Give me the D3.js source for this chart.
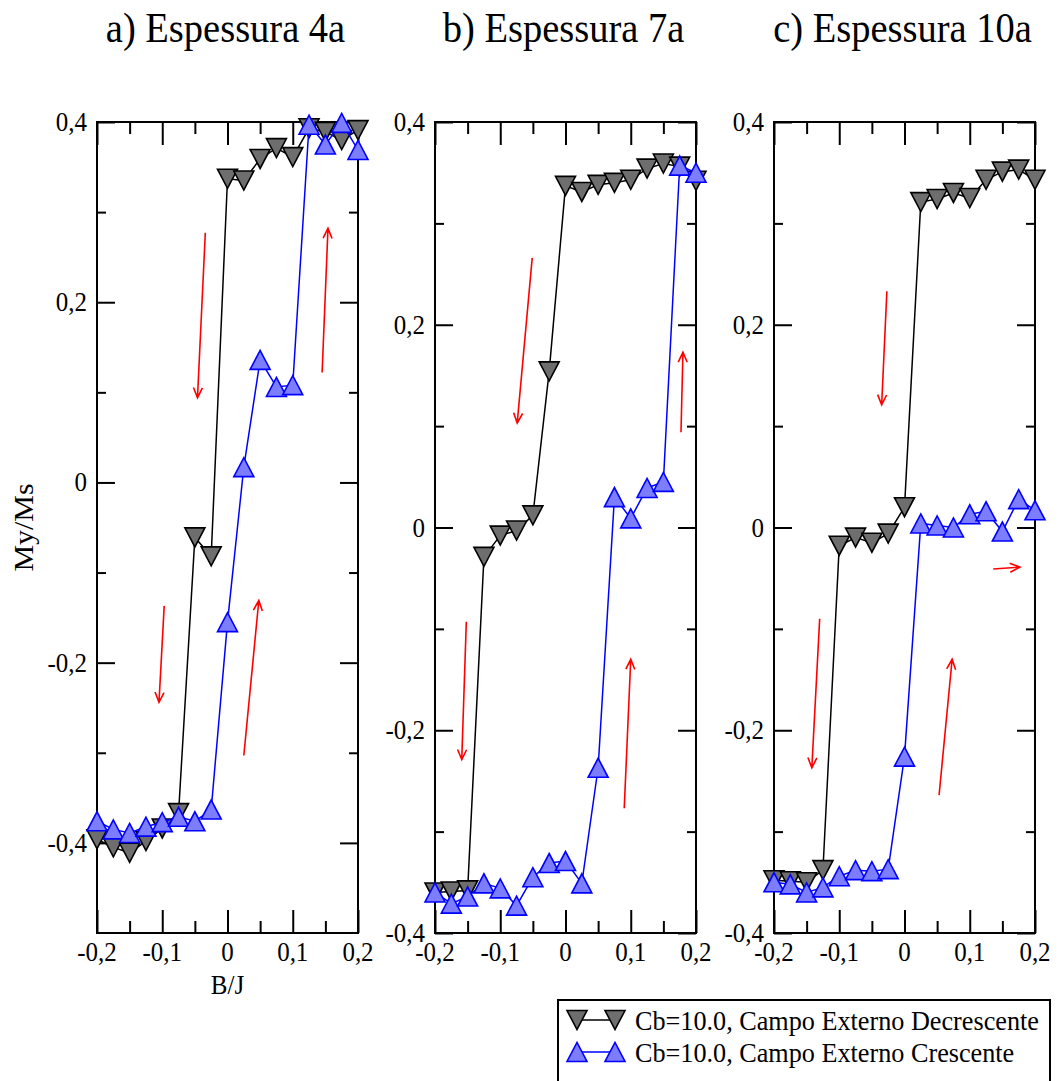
<!DOCTYPE html>
<html>
<head>
<meta charset="utf-8">
<script src="https://cdn.jsdelivr.net/npm/d3@7"></script>
<style>
  body { margin: 0; background: #fff; }
  svg { display: block; }
</style>
</head>
<body>
<div class="chart"></div>
<script>
// field values B/J (same grid in all three panels)
const bj = [-0.2, -0.175, -0.15, -0.125, -0.1, -0.075, -0.05, -0.025, 0,
            0.025, 0.05, 0.075, 0.1, 0.125, 0.15, 0.175, 0.2];

const titles = ['a) Espessura 4a', 'b) Espessura 7a', 'c) Espessura 10a'];
const legendLabels = ['Cb=10.0, Campo Externo Decrescente', 'Cb=10.0, Campo Externo Crescente'];

// My/Ms, decreasing field (grey) and increasing field (blue)
const decA = [-0.396, -0.405, -0.411, -0.398, -0.384, -0.367, -0.061, -0.082, 0.337,
              0.335, 0.359, 0.371, 0.361, 0.393, 0.389, 0.380, 0.391];
const incA = [-0.376, -0.385, -0.389, -0.382, -0.377, -0.371, -0.376, -0.363, -0.155,
              0.017, 0.136, 0.106, 0.108, 0.397, 0.375, 0.399, 0.369];

const decB = [-0.360, -0.359, -0.358, -0.029, -0.008, -0.003, 0.012, 0.154, 0.337,
              0.331, 0.338, 0.340, 0.343, 0.354, 0.359, 0.356, 0.342];
const incB = [-0.360, -0.371, -0.364, -0.351, -0.356, -0.373, -0.345, -0.331, -0.329,
              -0.351, -0.237, 0.030, 0.009, 0.039, 0.045, 0.357, 0.350];

const decC = [-0.348, -0.349, -0.350, -0.338, -0.018, -0.010, -0.015, -0.006, 0.020,
              0.321, 0.324, 0.330, 0.325, 0.343, 0.351, 0.353, 0.343];
const incC = [-0.350, -0.352, -0.360, -0.355, -0.344, -0.338, -0.339, -0.337, -0.226,
              0.004, 0.002, 0.000, 0.013, 0.016, -0.004, 0.028, 0.017];

// red direction arrows: [x0, y0, x1, y1] in data units, head at (x1, y1)
const arrowsA = [[-0.034, 0.277, -0.046, 0.094], [0.145, 0.122, 0.154, 0.282],
                 [-0.097, -0.137, -0.105, -0.244], [0.025, -0.303, 0.048, -0.131]];
const arrowsB = [[-0.051, 0.266, -0.074, 0.103], [0.177, 0.094, 0.180, 0.173],
                 [-0.152, -0.093, -0.159, -0.229], [0.090, -0.277, 0.100, -0.130]];
const arrowsC = [[-0.027, 0.233, -0.035, 0.121], [0.136, -0.041, 0.177, -0.039],
                 [-0.130, -0.090, -0.142, -0.237], [0.053, -0.264, 0.073, -0.130]];

// ticks
const xMajor = [-0.2, -0.1, 0, 0.1, 0.2];
const xMinor = [-0.15, -0.05, 0.05, 0.15];
const yMajor = [-0.4, -0.2, 0, 0.2, 0.4];
const yMinor = [-0.3, -0.1, 0.1, 0.3];

const W = 1058, H = 1081;
const plotTop = 122, plotBottom = 933, pw = 261;
const sy = 1.07; // glyphs in the reference are a bit taller than wide
const serif = 'Liberation Serif';

const greyFill = '#6e6e6e';
const blueFill = '#7d7dff';

const svg = d3.select('.chart')
  .append('svg')
    .attr('width', W)
    .attr('height', H);

svg.append('rect').attr('width', W).attr('height', H).attr('fill', '#fff');

const fmt = v => (Math.abs(v) < 1e-9 ? '0' : d3.format('.1f')(v).replace('.', ',').replace('−', '-'));

const txt = (g, x, y, s, size, anchor = 'start', rot = 0) =>
  g.append('text')
    .attr('transform', `translate(${x},${y}) scale(1,${sy}) rotate(${rot})`)
    .attr('text-anchor', anchor)
    .attr('font-family', serif)
    .attr('font-size', size)
    .attr('fill', '#000')
    .text(s);

// triangle marker, dir 1 = pointing down, -1 = pointing up
const tri = dir => `M-10,${-9.5 * dir}L10,${-9.5 * dir}L0,${9.5 * dir}Z`;

const panels = [
  { left: 97, domain: [-0.5, 0.4], dec: decA, inc: incA, arrows: arrowsA, title: titles[0] },
  { left: 435, domain: [-0.4, 0.4], dec: decB, inc: incB, arrows: arrowsB, title: titles[1] },
  { left: 774, domain: [-0.4, 0.4], dec: decC, inc: incC, arrows: arrowsC, title: titles[2] }
];

panels.forEach((p, pi) => {
  const g = svg.append('g');
  const x = d3.scaleLinear().domain([-0.2, 0.2]).range([p.left, p.left + pw]);
  const y = d3.scaleLinear().domain(p.domain).range([plotBottom, plotTop]);
  const right = p.left + pw;

  // ticks on all four sides, pointing inward
  const addAxis = (axis, tr) => {
    const a = g.append('g').attr('transform', tr).call(axis);
    a.select('.domain').remove();
    a.selectAll('line').attr('stroke', '#000').attr('stroke-width', 2);
    a.selectAll('text').remove();
  };
  addAxis(d3.axisBottom(x).tickValues(xMajor).tickSize(-23), `translate(0,${plotBottom})`);
  addAxis(d3.axisBottom(x).tickValues(xMinor).tickSize(-12), `translate(0,${plotBottom})`);
  addAxis(d3.axisTop(x).tickValues(xMajor).tickSize(-23), `translate(0,${plotTop})`);
  addAxis(d3.axisTop(x).tickValues(xMinor).tickSize(-12), `translate(0,${plotTop})`);
  addAxis(d3.axisLeft(y).tickValues(yMajor).tickSize(-18), `translate(${p.left},0)`);
  addAxis(d3.axisLeft(y).tickValues(yMinor).tickSize(-9), `translate(${p.left},0)`);
  addAxis(d3.axisRight(y).tickValues(yMajor).tickSize(-18), `translate(${right},0)`);
  addAxis(d3.axisRight(y).tickValues(yMinor).tickSize(-9), `translate(${right},0)`);

  g.append('rect')
    .attr('x', p.left).attr('y', plotTop)
    .attr('width', pw).attr('height', plotBottom - plotTop)
    .attr('fill', 'none').attr('stroke', '#000').attr('stroke-width', 2);

  // tick labels
  xMajor.forEach(v => txt(g, x(v), plotBottom + 28, fmt(v), 25, 'middle'));
  yMajor.forEach(v => txt(g, p.left - 10, y(v) + 9, fmt(v), 25, 'end'));

  // title
  txt(g, p.left + pw / 2 - 2, 42, p.title, 38.5, 'middle');

  // red arrows
  p.arrows.forEach(([x0, y0, x1, y1]) => {
    const X0 = x(x0), Y0 = y(y0), X1 = x(x1), Y1 = y(y1);
    const ang = Math.atan2(Y1 - Y0, X1 - X0);
    const L = 11, a = 0.42;
    const h1 = [X1 - L * Math.cos(ang - a), Y1 - L * Math.sin(ang - a)];
    const h2 = [X1 - L * Math.cos(ang + a), Y1 - L * Math.sin(ang + a)];
    g.append('path')
      .attr('d', `M${X0},${Y0}L${X1},${Y1}M${h1[0]},${h1[1]}L${X1},${Y1}L${h2[0]},${h2[1]}`)
      .attr('fill', 'none').attr('stroke', '#ff0000').attr('stroke-width', 1.6);
  });

  const line = d3.line().x(d => x(d[0])).y(d => y(d[1]));
  const series = [
    { vals: p.dec, dir: 1, stroke: '#000', fill: greyFill },
    { vals: p.inc, dir: -1, stroke: '#0000ff', fill: blueFill }
  ];
  series.forEach(s => {
    const pts = bj.map((b, i) => [b, s.vals[i]]);
    g.append('path')
      .attr('d', line(pts))
      .attr('fill', 'none').attr('stroke', s.stroke).attr('stroke-width', 1.5);
    g.selectAll(null)
      .data(pts)
      .enter()
      .append('path')
        .attr('d', tri(s.dir))
        .attr('transform', d => `translate(${x(d[0])},${y(d[1])})`)
        .attr('fill', s.fill)
        .attr('stroke', s.stroke)
        .attr('stroke-width', 1.6);
  });

  if (pi === 0) {
    txt(g, x(0), 994, 'B/J', 25, 'middle');
    txt(g, 33, y(-0.05), 'My/Ms', 28, 'middle', -90);
  }
});

// legend
const lg = svg.append('g');
lg.append('rect')
  .attr('x', 558).attr('y', 1000)
  .attr('width', 492).attr('height', 100)
  .attr('fill', '#fff').attr('stroke', '#000').attr('stroke-width', 2);

const legendStyle = [
  { dir: 1, stroke: '#000', fill: greyFill, cy: 1020 },
  { dir: -1, stroke: '#0000ff', fill: blueFill, cy: 1052 }
];
legendStyle.forEach((s, i) => {
  lg.append('line')
    .attr('x1', 577).attr('x2', 615)
    .attr('y1', s.cy).attr('y2', s.cy)
    .attr('stroke', s.stroke).attr('stroke-width', 1.5);
  [577, 615].forEach(cx => lg.append('path')
    .attr('d', tri(s.dir))
    .attr('transform', `translate(${cx},${s.cy})`)
    .attr('fill', s.fill).attr('stroke', s.stroke).attr('stroke-width', 1.6));
  txt(lg, 635, s.cy + 10, legendLabels[i], 26.2, 'start');
});
</script>
</body>
</html>
